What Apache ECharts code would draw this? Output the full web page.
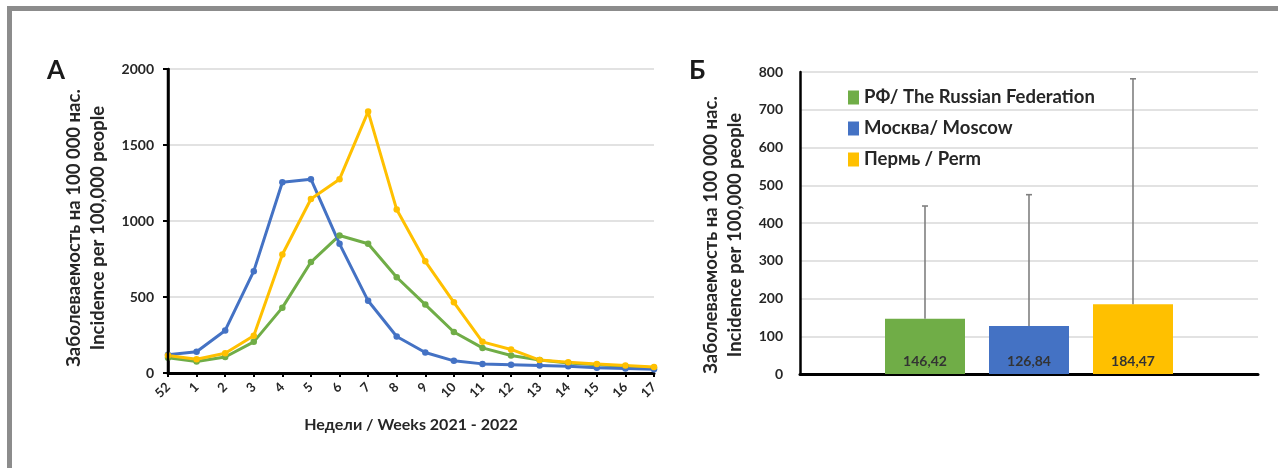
<!DOCTYPE html>
<html><head><meta charset="utf-8">
<script src="https://cdn.jsdelivr.net/npm/echarts@6/dist/echarts.min.js"></script>
<style>html,body{margin:0;padding:0;background:#fff}#c{width:1278px;height:468px}</style>
</head><body><div id="c"></div>
<script>
const weeks = ['52','1','2','3','4','5','6','7','8','9','10','11','12','13','14','15','16','17'];
const rfWeekly = [100,75,105,205,430,730,905,850,630,450,270,165,115,85,65,55,45,35];
const moscowWeekly = [120,140,280,670,1255,1275,850,475,240,135,80,60,55,50,45,35,30,25];
const permWeekly = [115,90,130,245,780,1145,1275,1720,1075,735,465,205,155,85,70,60,50,40];
const barNames = ['РФ/ The Russian Federation','Москва/ Moscow','Пермь / Perm'];
const barValues = [146.42,126.84,184.47];
const barErrHigh = [445,475,782];
const leftTicks = [0,500,1000,1500,2000];
const colors = ['#70ad47','#4472c4','#ffc000'];
const FONT = 'Lato';
const BAR_W = 80, BAR_GAP_PX = 24;

const chart = echarts.init(document.getElementById('c'));
const yNameStyle = {fontFamily:FONT,fontWeight:'bold',fontSize:18.5,color:'#262626',lineHeight:24};
const tickLbl = {fontFamily:FONT,fontWeight:'bold',fontSize:14,color:'#262626'};

const lineSeries = [
  {name:'rf',data:rfWeekly,color:colors[0]},
  {name:'msk',data:moscowWeekly,color:colors[1]},
  {name:'perm',data:permWeekly,color:colors[2]}
].map(s=>({type:'line',xAxisIndex:0,yAxisIndex:0,data:s.data,symbol:'circle',symbolSize:6.5,
  lineStyle:{color:s.color,width:3},itemStyle:{color:s.color},silent:true,animation:false}));

const barSeries = barNames.map((n,i)=>({type:'bar',name:n,xAxisIndex:1,yAxisIndex:1,
  data:[barValues[i]],barWidth:BAR_W,barGap:(BAR_GAP_PX/BAR_W*100)+'%',
  itemStyle:{color:colors[i]},animation:false,
  label:{show:true,position:'insideBottom',distance:6,fontFamily:FONT,fontWeight:'bold',fontSize:14,color:'#333',
    formatter:p=>p.value.toFixed(2).replace('.',',')}}));

const errSeries = {type:'custom',xAxisIndex:1,yAxisIndex:1,animation:false,silent:true,z:5,
  data:barValues.map((v,i)=>[0,v,barErrHigh[i],i]),
  renderItem:(params,api)=>{
    const lo = api.coord([api.value(0),api.value(1)]);
    const hi = api.coord([api.value(0),api.value(2)]);
    const off = (api.value(3)-1)*(BAR_W+BAR_GAP_PX);
    const x = lo[0]+off;
    const st = {stroke:'#808080',lineWidth:1.6};
    return {type:'group',children:[
      {type:'line',shape:{x1:x,y1:lo[1],x2:x,y2:hi[1]},style:st},
      {type:'line',shape:{x1:x-3,y1:hi[1],x2:x+3,y2:hi[1]},style:st}
    ]};
  }};

const plain = v => String(v);

const baseGraphic = [
  {type:'rect',shape:{x:7,y:6,width:1271,height:5},style:{fill:'#8c8c8c'}},
  {type:'rect',shape:{x:7,y:6,width:5,height:462},style:{fill:'#8c8c8c'}},
  {type:'text',left:47,top:58,style:{text:'А',font:'bold 26px '+FONT,fill:'#1a1a1a'}},
  {type:'text',left:689,top:58,style:{text:'Б',font:'bold 26px '+FONT,fill:'#1a1a1a'}}
];

chart.setOption({
  backgroundColor:'#fff',
  animation:false,
  graphic:baseGraphic,
  legend:{data:barNames,orient:'vertical',left:843,top:82,itemWidth:11,itemHeight:14,itemGap:10,
    icon:'rect',textStyle:{fontFamily:FONT,fontWeight:'bold',fontSize:18.5,color:'#262626',lineHeight:21},selectedMode:false},
  grid:[
    {left:168,top:69,width:486,height:304},
    {left:800,top:72,width:458,height:302}
  ],
  xAxis:[
    {type:'category',gridIndex:0,data:weeks,boundaryGap:false,
      axisLine:{show:true,onZero:false,lineStyle:{color:'#000',width:3}},
      axisTick:{show:true,length:4,lineStyle:{color:'#000',width:2}},
      axisLabel:Object.assign({rotate:45,margin:12,interval:0},tickLbl,{fontSize:13}),
      name:'Недели / Weeks 2021 - 2022',nameLocation:'middle',nameGap:44,
      nameTextStyle:{fontFamily:FONT,fontWeight:'bold',fontSize:16,color:'#262626'}},
    {type:'category',gridIndex:1,data:[''],
      axisLine:{show:true,onZero:false,lineStyle:{color:'#000',width:3}},axisTick:{show:false},axisLabel:{show:false}}
  ],
  yAxis:[
    {type:'value',gridIndex:0,position:'left',min:0,max:2000,interval:500,
      axisLine:{show:true,onZero:false,lineStyle:{color:'#000',width:2.5}},
      axisTick:{show:true,length:5,lineStyle:{color:'#000',width:2}},
      axisLabel:Object.assign({margin:14,formatter:plain},tickLbl),
      splitLine:{lineStyle:{color:'#d9d9d9',width:1.5}},
      name:'Заболеваемость на 100 000 нас.\nIncidence per 100,000 people',nameLocation:'middle',nameGap:58,nameRotate:90,
      nameTextStyle:Object.assign({},yNameStyle,{padding:[0,14,0,0]})},
    {type:'value',gridIndex:1,position:'left',min:0,max:800,interval:100,
      axisLine:{show:true,onZero:false,lineStyle:{color:'#000',width:2.5}},
      axisTick:{show:false},
      axisLabel:Object.assign({margin:17,formatter:plain},tickLbl),
      splitLine:{lineStyle:{color:'#d9d9d9',width:1.5}},
      name:'Заболеваемость на 100 000 нас.\nIncidence per 100,000 people',nameLocation:'middle',nameGap:53,nameRotate:90,
      nameTextStyle:Object.assign({},yNameStyle,{padding:[0,24,0,0]})}
  ],
  series:[...lineSeries,...barSeries,errSeries]
});

// left value-axis line and ticks, positioned through the chart's own scale
(function(){
  const fin = {xAxisIndex:0,yAxisIndex:0};
  const pHi = chart.convertToPixel(fin,[0,leftTicks[leftTicks.length-1]]);
  const pLo = chart.convertToPixel(fin,[0,leftTicks[0]]);
  const extra = [{type:'line',z:100,shape:{x1:pHi[0],y1:pHi[1]-1,x2:pLo[0],y2:pLo[1]+1},style:{stroke:'#000',lineWidth:2.5}}];
  leftTicks.forEach(v=>{
    const p = chart.convertToPixel(fin,[0,v]);
    extra.push({type:'line',z:100,shape:{x1:p[0]-5,y1:p[1],x2:p[0],y2:p[1]},style:{stroke:'#000',lineWidth:2}});
  });
  chart.setOption({graphic:baseGraphic.concat(extra)});
})();
</script></body></html>
